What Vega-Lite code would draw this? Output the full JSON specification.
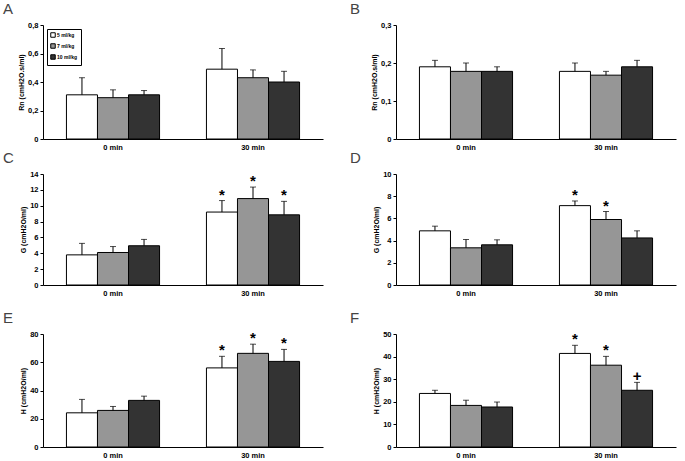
{
  "$schema": "https://vega.github.io/schema/vega-lite/v6.json",
  "padding": {"left": 3, "top": 2, "right": 5, "bottom": 2},
  "background": "white",
  "data": {"values": [
    {"panel": "A", "time": "0 min", "dose": "5 ml/kg", "value": 0.31, "upper": 0.43, "sig": ""},
    {"panel": "A", "time": "0 min", "dose": "7 ml/kg", "value": 0.29, "upper": 0.345, "sig": ""},
    {"panel": "A", "time": "0 min", "dose": "10 ml/kg", "value": 0.31, "upper": 0.34, "sig": ""},
    {"panel": "A", "time": "30 min", "dose": "5 ml/kg", "value": 0.49, "upper": 0.635, "sig": ""},
    {"panel": "A", "time": "30 min", "dose": "7 ml/kg", "value": 0.43, "upper": 0.485, "sig": ""},
    {"panel": "A", "time": "30 min", "dose": "10 ml/kg", "value": 0.40, "upper": 0.475, "sig": ""},
    {"panel": "B", "time": "0 min", "dose": "5 ml/kg", "value": 0.19, "upper": 0.207, "sig": ""},
    {"panel": "B", "time": "0 min", "dose": "7 ml/kg", "value": 0.178, "upper": 0.2, "sig": ""},
    {"panel": "B", "time": "0 min", "dose": "10 ml/kg", "value": 0.178, "upper": 0.19, "sig": ""},
    {"panel": "B", "time": "30 min", "dose": "5 ml/kg", "value": 0.178, "upper": 0.2, "sig": ""},
    {"panel": "B", "time": "30 min", "dose": "7 ml/kg", "value": 0.168, "upper": 0.178, "sig": ""},
    {"panel": "B", "time": "30 min", "dose": "10 ml/kg", "value": 0.19, "upper": 0.207, "sig": ""},
    {"panel": "C", "time": "0 min", "dose": "5 ml/kg", "value": 3.8, "upper": 5.25, "sig": ""},
    {"panel": "C", "time": "0 min", "dose": "7 ml/kg", "value": 4.1, "upper": 4.85, "sig": ""},
    {"panel": "C", "time": "0 min", "dose": "10 ml/kg", "value": 4.95, "upper": 5.75, "sig": ""},
    {"panel": "C", "time": "30 min", "dose": "5 ml/kg", "value": 9.2, "upper": 10.65, "sig": "*"},
    {"panel": "C", "time": "30 min", "dose": "7 ml/kg", "value": 10.9, "upper": 12.35, "sig": "*"},
    {"panel": "C", "time": "30 min", "dose": "10 ml/kg", "value": 8.85, "upper": 10.55, "sig": "*"},
    {"panel": "D", "time": "0 min", "dose": "5 ml/kg", "value": 4.88, "upper": 5.3, "sig": ""},
    {"panel": "D", "time": "0 min", "dose": "7 ml/kg", "value": 3.35, "upper": 4.1, "sig": ""},
    {"panel": "D", "time": "0 min", "dose": "10 ml/kg", "value": 3.62, "upper": 4.07, "sig": ""},
    {"panel": "D", "time": "30 min", "dose": "5 ml/kg", "value": 7.15, "upper": 7.57, "sig": "*"},
    {"panel": "D", "time": "30 min", "dose": "7 ml/kg", "value": 5.9, "upper": 6.62, "sig": "*"},
    {"panel": "D", "time": "30 min", "dose": "10 ml/kg", "value": 4.24, "upper": 4.88, "sig": ""},
    {"panel": "E", "time": "0 min", "dose": "5 ml/kg", "value": 24.2, "upper": 33.7, "sig": ""},
    {"panel": "E", "time": "0 min", "dose": "7 ml/kg", "value": 25.9, "upper": 28.7, "sig": ""},
    {"panel": "E", "time": "0 min", "dose": "10 ml/kg", "value": 33.0, "upper": 36.0, "sig": ""},
    {"panel": "E", "time": "30 min", "dose": "5 ml/kg", "value": 56.0, "upper": 64.2, "sig": "*"},
    {"panel": "E", "time": "30 min", "dose": "7 ml/kg", "value": 66.3, "upper": 72.8, "sig": "*"},
    {"panel": "E", "time": "30 min", "dose": "10 ml/kg", "value": 60.6, "upper": 69.1, "sig": "*"},
    {"panel": "F", "time": "0 min", "dose": "5 ml/kg", "value": 23.7, "upper": 25.1, "sig": ""},
    {"panel": "F", "time": "0 min", "dose": "7 ml/kg", "value": 18.4, "upper": 20.7, "sig": ""},
    {"panel": "F", "time": "0 min", "dose": "10 ml/kg", "value": 17.7, "upper": 19.9, "sig": ""},
    {"panel": "F", "time": "30 min", "dose": "5 ml/kg", "value": 41.4, "upper": 45.0, "sig": "*"},
    {"panel": "F", "time": "30 min", "dose": "7 ml/kg", "value": 36.2, "upper": 40.1, "sig": "*"},
    {"panel": "F", "time": "30 min", "dose": "10 ml/kg", "value": 25.1, "upper": 28.6, "sig": "+"}
  ]},
  "columns": 2,
  "spacing": {"row": 0, "column": 27},
  "resolve": {"scale": {"y": "independent", "color": "independent"}, "legend": {"color": "independent"}},
  "concat": [
    {
      "width": 280, "height": 114,
      "title": {"text": "A", "anchor": "start", "frame": "group", "dx": -40, "offset": 4},
      "transform": [{"filter": "datum.panel == 'A'"}],
      "encoding": {
        "x": {"field": "time", "type": "nominal", "sort": ["0 min", "30 min"], "scale": {"paddingInner": 0.335, "paddingOuter": 0.1675}},
        "xOffset": {"field": "dose", "type": "nominal", "sort": ["5 ml/kg", "7 ml/kg", "10 ml/kg"], "scale": {"paddingInner": 0, "paddingOuter": 0}}
      },
      "layer": [
        {"mark": {"type": "bar", "stroke": "black", "strokeWidth": 1},
         "encoding": {
           "y": {"field": "value", "type": "quantitative", "scale": {"domain": [0, 0.8]}, "axis": {"values": [0, 0.2, 0.4, 0.6, 0.8], "tickCount": 20, "labelOverlap": false, "labelExpr": "replace(format(datum.value, '~g'), '.', ',')", "title": "Rn (cmH2O.s/ml)"}},
           "color": {"field": "dose", "type": "nominal", "scale": {"domain": ["5 ml/kg", "7 ml/kg", "10 ml/kg"], "range": ["#ffffff", "#969696", "#333333"]},
             "legend": {"orient": "top-left", "offset": 4, "title": null, "strokeColor": "black", "padding": 3, "symbolType": "square", "symbolSize": 20, "symbolStrokeColor": "black", "symbolStrokeWidth": 1, "symbolOpacity": 1, "labelFontSize": 5, "labelFont": "Liberation Sans", "labelFontWeight": "bold", "labelColor": "#000", "rowPadding": 1, "labelOffset": 1}}
         }},
        {"mark": {"type": "rule", "color": "black"}, "encoding": {"y": {"field": "value", "type": "quantitative"}, "y2": {"field": "upper"}}},
        {"mark": {"type": "tick", "color": "black", "orient": "horizontal", "size": 6, "thickness": 1}, "encoding": {"y": {"field": "upper", "type": "quantitative"}}}
      ]
    },
    {
      "width": 280, "height": 114,
      "title": {"text": "B", "anchor": "start", "frame": "group", "dx": -46, "offset": 4},
      "transform": [{"filter": "datum.panel == 'B'"}],
      "encoding": {
        "x": {"field": "time", "type": "nominal", "sort": ["0 min", "30 min"], "scale": {"paddingInner": 0.335, "paddingOuter": 0.1675}},
        "xOffset": {"field": "dose", "type": "nominal", "sort": ["5 ml/kg", "7 ml/kg", "10 ml/kg"], "scale": {"paddingInner": 0, "paddingOuter": 0}}
      },
      "layer": [
        {"mark": {"type": "bar", "stroke": "black", "strokeWidth": 1},
         "encoding": {
           "y": {"field": "value", "type": "quantitative", "scale": {"domain": [0, 0.3]}, "axis": {"values": [0, 0.1, 0.2, 0.3], "tickCount": 20, "labelOverlap": false, "labelExpr": "replace(format(datum.value, '~g'), '.', ',')", "title": "Rn (cmH2O.s/ml)"}},
           "color": {"field": "dose", "type": "nominal", "scale": {"domain": ["5 ml/kg", "7 ml/kg", "10 ml/kg"], "range": ["#ffffff", "#969696", "#333333"]}, "legend": null}
         }},
        {"mark": {"type": "rule", "color": "black"}, "encoding": {"y": {"field": "value", "type": "quantitative"}, "y2": {"field": "upper"}}},
        {"mark": {"type": "tick", "color": "black", "orient": "horizontal", "size": 6, "thickness": 1}, "encoding": {"y": {"field": "upper", "type": "quantitative"}}}
      ]
    },
    {
      "width": 280, "height": 111,
      "title": {"text": "C", "anchor": "start", "frame": "group", "dx": -40, "offset": 4},
      "transform": [{"filter": "datum.panel == 'C'"}],
      "encoding": {
        "x": {"field": "time", "type": "nominal", "sort": ["0 min", "30 min"], "scale": {"paddingInner": 0.335, "paddingOuter": 0.1675}, "axis": {"minExtent": 26}},
        "xOffset": {"field": "dose", "type": "nominal", "sort": ["5 ml/kg", "7 ml/kg", "10 ml/kg"], "scale": {"paddingInner": 0, "paddingOuter": 0}}
      },
      "layer": [
        {"mark": {"type": "bar", "stroke": "black", "strokeWidth": 1},
         "encoding": {
           "y": {"field": "value", "type": "quantitative", "scale": {"domain": [0, 14]}, "axis": {"values": [0, 2, 4, 6, 8, 10, 12, 14], "tickCount": 20, "format": "d", "labelOverlap": false, "title": "G (cmH2O/ml)"}},
           "color": {"field": "dose", "type": "nominal", "scale": {"domain": ["5 ml/kg", "7 ml/kg", "10 ml/kg"], "range": ["#ffffff", "#969696", "#333333"]}, "legend": null}
         }},
        {"mark": {"type": "rule", "color": "black"}, "encoding": {"y": {"field": "value", "type": "quantitative"}, "y2": {"field": "upper"}}},
        {"mark": {"type": "tick", "color": "black", "orient": "horizontal", "size": 6, "thickness": 1}, "encoding": {"y": {"field": "upper", "type": "quantitative"}}},
        {"transform": [{"filter": "datum.sig != ''"}], "mark": {"type": "text", "fontSize": 15, "fontWeight": "bold", "font": "Liberation Sans", "baseline": "bottom", "dy": 2, "color": "black"}, "encoding": {"y": {"field": "upper", "type": "quantitative"}, "text": {"field": "sig"}}}
      ]
    },
    {
      "width": 280, "height": 111,
      "title": {"text": "D", "anchor": "start", "frame": "group", "dx": -46, "offset": 4},
      "transform": [{"filter": "datum.panel == 'D'"}],
      "encoding": {
        "x": {"field": "time", "type": "nominal", "sort": ["0 min", "30 min"], "scale": {"paddingInner": 0.335, "paddingOuter": 0.1675}, "axis": {"minExtent": 26}},
        "xOffset": {"field": "dose", "type": "nominal", "sort": ["5 ml/kg", "7 ml/kg", "10 ml/kg"], "scale": {"paddingInner": 0, "paddingOuter": 0}}
      },
      "layer": [
        {"mark": {"type": "bar", "stroke": "black", "strokeWidth": 1},
         "encoding": {
           "y": {"field": "value", "type": "quantitative", "scale": {"domain": [0, 10]}, "axis": {"values": [0, 2, 4, 6, 8, 10], "tickCount": 20, "format": "d", "labelOverlap": false, "title": "G (cmH2O/ml)"}},
           "color": {"field": "dose", "type": "nominal", "scale": {"domain": ["5 ml/kg", "7 ml/kg", "10 ml/kg"], "range": ["#ffffff", "#969696", "#333333"]}, "legend": null}
         }},
        {"mark": {"type": "rule", "color": "black"}, "encoding": {"y": {"field": "value", "type": "quantitative"}, "y2": {"field": "upper"}}},
        {"mark": {"type": "tick", "color": "black", "orient": "horizontal", "size": 6, "thickness": 1}, "encoding": {"y": {"field": "upper", "type": "quantitative"}}},
        {"transform": [{"filter": "datum.sig != ''"}], "mark": {"type": "text", "fontSize": 15, "fontWeight": "bold", "font": "Liberation Sans", "baseline": "bottom", "dy": 2, "color": "black"}, "encoding": {"y": {"field": "upper", "type": "quantitative"}, "text": {"field": "sig"}}}
      ]
    },
    {
      "width": 280, "height": 113,
      "title": {"text": "E", "anchor": "start", "frame": "group", "dx": -40, "offset": 4},
      "transform": [{"filter": "datum.panel == 'E'"}],
      "encoding": {
        "x": {"field": "time", "type": "nominal", "sort": ["0 min", "30 min"], "scale": {"paddingInner": 0.335, "paddingOuter": 0.1675}},
        "xOffset": {"field": "dose", "type": "nominal", "sort": ["5 ml/kg", "7 ml/kg", "10 ml/kg"], "scale": {"paddingInner": 0, "paddingOuter": 0}}
      },
      "layer": [
        {"mark": {"type": "bar", "stroke": "black", "strokeWidth": 1},
         "encoding": {
           "y": {"field": "value", "type": "quantitative", "scale": {"domain": [0, 80]}, "axis": {"values": [0, 20, 40, 60, 80], "tickCount": 20, "format": "d", "labelOverlap": false, "title": "H (cmH2O/ml)"}},
           "color": {"field": "dose", "type": "nominal", "scale": {"domain": ["5 ml/kg", "7 ml/kg", "10 ml/kg"], "range": ["#ffffff", "#969696", "#333333"]}, "legend": null}
         }},
        {"mark": {"type": "rule", "color": "black"}, "encoding": {"y": {"field": "value", "type": "quantitative"}, "y2": {"field": "upper"}}},
        {"mark": {"type": "tick", "color": "black", "orient": "horizontal", "size": 6, "thickness": 1}, "encoding": {"y": {"field": "upper", "type": "quantitative"}}},
        {"transform": [{"filter": "datum.sig != ''"}], "mark": {"type": "text", "fontSize": 15, "fontWeight": "bold", "font": "Liberation Sans", "baseline": "bottom", "dy": 2, "color": "black"}, "encoding": {"y": {"field": "upper", "type": "quantitative"}, "text": {"field": "sig"}}}
      ]
    },
    {
      "width": 280, "height": 113,
      "title": {"text": "F", "anchor": "start", "frame": "group", "dx": -46, "offset": 4},
      "transform": [{"filter": "datum.panel == 'F'"}],
      "encoding": {
        "x": {"field": "time", "type": "nominal", "sort": ["0 min", "30 min"], "scale": {"paddingInner": 0.335, "paddingOuter": 0.1675}},
        "xOffset": {"field": "dose", "type": "nominal", "sort": ["5 ml/kg", "7 ml/kg", "10 ml/kg"], "scale": {"paddingInner": 0, "paddingOuter": 0}}
      },
      "layer": [
        {"mark": {"type": "bar", "stroke": "black", "strokeWidth": 1},
         "encoding": {
           "y": {"field": "value", "type": "quantitative", "scale": {"domain": [0, 50]}, "axis": {"values": [0, 10, 20, 30, 40, 50], "tickCount": 20, "format": "d", "labelOverlap": false, "title": "H (cmH2O/ml)"}},
           "color": {"field": "dose", "type": "nominal", "scale": {"domain": ["5 ml/kg", "7 ml/kg", "10 ml/kg"], "range": ["#ffffff", "#969696", "#333333"]}, "legend": null}
         }},
        {"mark": {"type": "rule", "color": "black"}, "encoding": {"y": {"field": "value", "type": "quantitative"}, "y2": {"field": "upper"}}},
        {"mark": {"type": "tick", "color": "black", "orient": "horizontal", "size": 6, "thickness": 1}, "encoding": {"y": {"field": "upper", "type": "quantitative"}}},
        {"transform": [{"filter": "datum.sig != ''"}], "mark": {"type": "text", "fontSize": 15, "fontWeight": "bold", "font": "Liberation Sans", "baseline": "bottom", "dy": 2, "color": "black"}, "encoding": {"y": {"field": "upper", "type": "quantitative"}, "text": {"field": "sig"}}}
      ]
    }
  ],
  "config": {
    "view": {"stroke": null},
    "title": {"font": "Liberation Sans", "fontSize": 15, "fontWeight": "normal", "color": "#444"},
    "axis": {"domainColor": "#000", "tickColor": "#000", "labelFont": "Liberation Sans", "labelFontSize": 7.5, "labelFontWeight": "bold", "labelColor": "#000", "titleFont": "Liberation Sans", "titleFontSize": 7, "titleFontWeight": "bold", "titleColor": "#000", "grid": false, "labelOverlap": false, "labelFlush": false},
    "axisY": {"tickSize": 3, "titlePadding": 3, "labelPadding": 2},
    "axisX": {"ticks": false, "labelPadding": 4, "title": null, "labelAngle": 0, "labelColor": "#000"}
  }
}
